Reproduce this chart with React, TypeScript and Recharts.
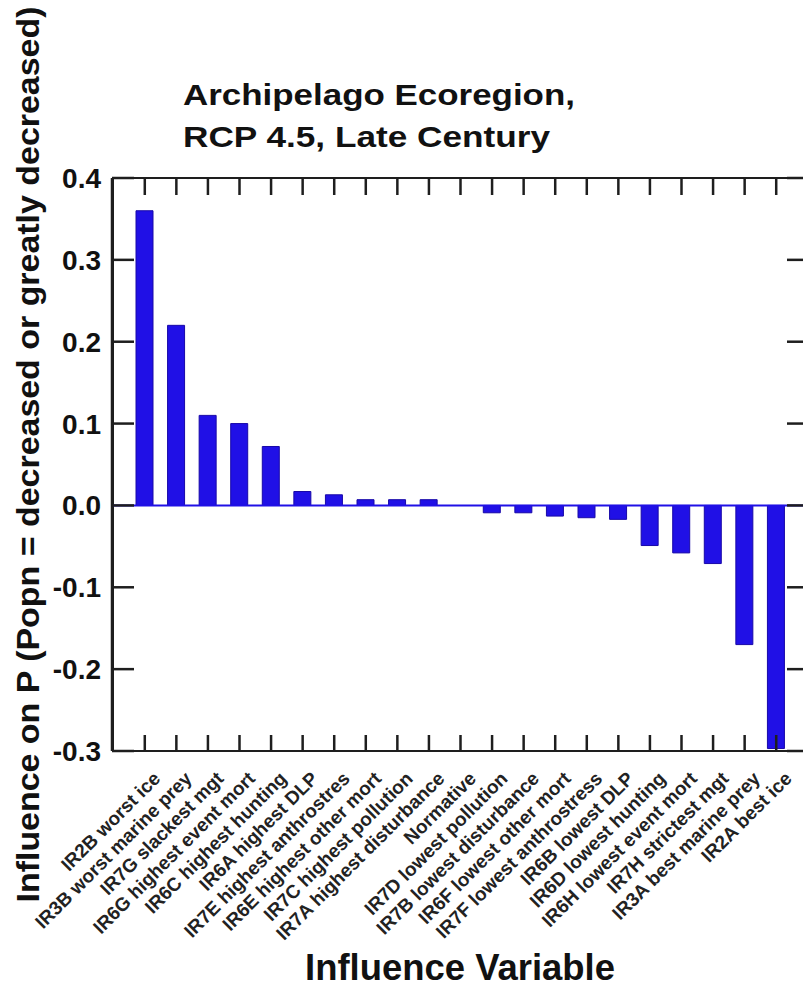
import React from 'react'
import { ComposedChart, Bar, Line, XAxis, YAxis, ReferenceLine, CartesianGrid, Label } from 'recharts'

// influence variables, in plotted order
const variables = [
  'IR2B worst ice',
  'IR3B worst marine prey',
  'IR7G slackest mgt',
  'IR6G highest event mort',
  'IR6C highest hunting',
  'IR6A highest DLP',
  'IR7E highest anthrostres',
  'IR6E highest other mort',
  'IR7C highest pollution',
  'IR7A highest disturbance',
  'Normative',
  'IR7D lowest pollution',
  'IR7B lowest disturbance',
  'IR6F lowest other mort',
  'IR7F lowest anthrostress',
  'IR6B lowest DLP',
  'IR6D lowest hunting',
  'IR6H lowest event mort',
  'IR7H strictest mgt',
  'IR3A best marine prey',
  'IR2A best ice',
]

// influence on P (Popn = decreased or greatly decreased)
const influence = [
  0.36, 0.22, 0.11, 0.1, 0.072, 0.017, 0.013, 0.007, 0.007, 0.007, 0,
  -0.009, -0.009, -0.013, -0.015, -0.017, -0.049, -0.058, -0.071, -0.17, -0.297,
]

const yTicks = [-0.3, -0.2, -0.1, 0, 0.1, 0.2, 0.3, 0.4]

const titleLines = ['Archipelago Ecoregion,', 'RCP 4.5, Late Century']

const data = variables.map((name, i) => ({ name, value: influence[i] }))

const FONT = '"Liberation Sans", Arial, Helvetica, sans-serif'
const AXIS = '#1e1e1e'
const BLUE = '#2010e6'

function CategoryTick({ x, y, payload }: any) {
  const ax = x + 12
  return (
    <text
      x={ax}
      y={y}
      dy="0.35em"
      textAnchor="end"
      transform={`rotate(-45, ${ax}, ${y})`}
      fontFamily={FONT}
      fontSize={19}
      fontWeight="bold"
      fill="#222"
    >
      {payload.value}
    </text>
  )
}

// tick lines only, no labels (top and right frame axes)
const NoLabel = () => <g />

const XTitle = ({ viewBox }: any) => (
  <text
    x={viewBox.x + viewBox.width / 2 + 2}
    y={viewBox.y + 229}
    textAnchor="middle"
    fontFamily={FONT}
    fontSize={37}
    fontWeight="bold"
    textLength={310}
    lengthAdjust="spacingAndGlyphs"
    fill="#111"
  >
    Influence Variable
  </text>
)

const YTitle = ({ viewBox }: any) => {
  const cx = 28
  const cy = viewBox.y + viewBox.height / 2 - 10
  return (
    <text
      x={cx}
      y={cy}
      dy="0.35em"
      textAnchor="middle"
      transform={`rotate(-90, ${cx}, ${cy})`}
      fontFamily={FONT}
      fontSize={32}
      fontWeight="bold"
      textLength={896}
      lengthAdjust="spacingAndGlyphs"
      fill="#111"
    >
      Influence on P (Popn = decreased or greatly decreased)
    </text>
  )
}

export default function App() {
  return (
    <div style={{ position: 'absolute', left: 0, top: 0, width: 803, height: 987, overflow: 'hidden', background: '#fff' }}>
      <ComposedChart
        width={806}
        height={987}
        data={data}
        margin={{ top: 172, right: 1, bottom: 36, left: 12 }}
      >
        {/* plot frame along the plot-area edges */}
        <CartesianGrid
          stroke={AXIS}
          strokeWidth={2}
          horizontalCoordinatesGenerator={({ offset }: any) => [offset.top, offset.top + offset.height]}
          verticalCoordinatesGenerator={({ offset }: any) => [offset.left + 1, offset.left + offset.width]}
        />
        <XAxis
          dataKey="name"
          scale="band"
          height={200}
          interval={0}
          padding={{ left: 17, right: 12 }}
          tickSize={-16}
          tickMargin={40}
          tick={<CategoryTick />}
          axisLine={{ stroke: AXIS, strokeWidth: 2 }}
          tickLine={{ stroke: AXIS, strokeWidth: 2.5 }}
        >
          <Label content={<XTitle />} />
        </XAxis>
        <XAxis
          xAxisId="top"
          orientation="top"
          dataKey="name"
          scale="band"
          height={6}
          interval={0}
          padding={{ left: 17, right: 12 }}
          tickSize={-17}
          tick={NoLabel}
          axisLine={{ stroke: AXIS, strokeWidth: 2 }}
          tickLine={{ stroke: AXIS, strokeWidth: 2.5 }}
        />
        <YAxis
          width={100}
          domain={[-0.3, 0.4]}
          ticks={yTicks}
          interval={0}
          allowDataOverflow
          tickSize={-22}
          tickMargin={33}
          tickFormatter={(v: number) => v.toFixed(1)}
          tick={{ fontFamily: FONT, fontSize: 28, fontWeight: 'bold', fill: '#111' }}
          axisLine={{ stroke: AXIS, strokeWidth: 2.5 }}
          tickLine={{ stroke: AXIS, strokeWidth: 2.5 }}
        >
          <Label content={<YTitle />} />
        </YAxis>
        <YAxis
          yAxisId="right"
          orientation="right"
          width={1}
          domain={[-0.3, 0.4]}
          ticks={yTicks}
          interval={0}
          allowDataOverflow
          tickSize={-17}
          tick={NoLabel}
          axisLine={{ stroke: AXIS, strokeWidth: 2 }}
          tickLine={{ stroke: AXIS, strokeWidth: 2.5 }}
        />
        <ReferenceLine y={0} stroke={BLUE} strokeWidth={2} />
        <Bar dataKey="value" fill={BLUE} stroke="#1808a8" strokeWidth={1} barSize={17} isAnimationActive={false} />
        {/* invisible series bound to the top / right frame axes */}
        <Line
          dataKey="value"
          xAxisId="top"
          yAxisId="right"
          stroke="none"
          dot={false}
          activeDot={false}
          legendType="none"
          isAnimationActive={false}
        />
      </ComposedChart>
      <svg width={803} height={987} style={{ position: 'absolute', left: 0, top: 0, pointerEvents: 'none' }}>
        {titleLines.map((line, i) => (
          <text
            key={line}
            x={183}
            y={105 + i * 42}
            fontFamily={FONT}
            fontSize={30}
            fontWeight="bold"
            textLength={i === 0 ? 392 : 367}
            lengthAdjust="spacingAndGlyphs"
            fill="#111"
          >
            {line}
          </text>
        ))}
      </svg>
    </div>
  )
}
